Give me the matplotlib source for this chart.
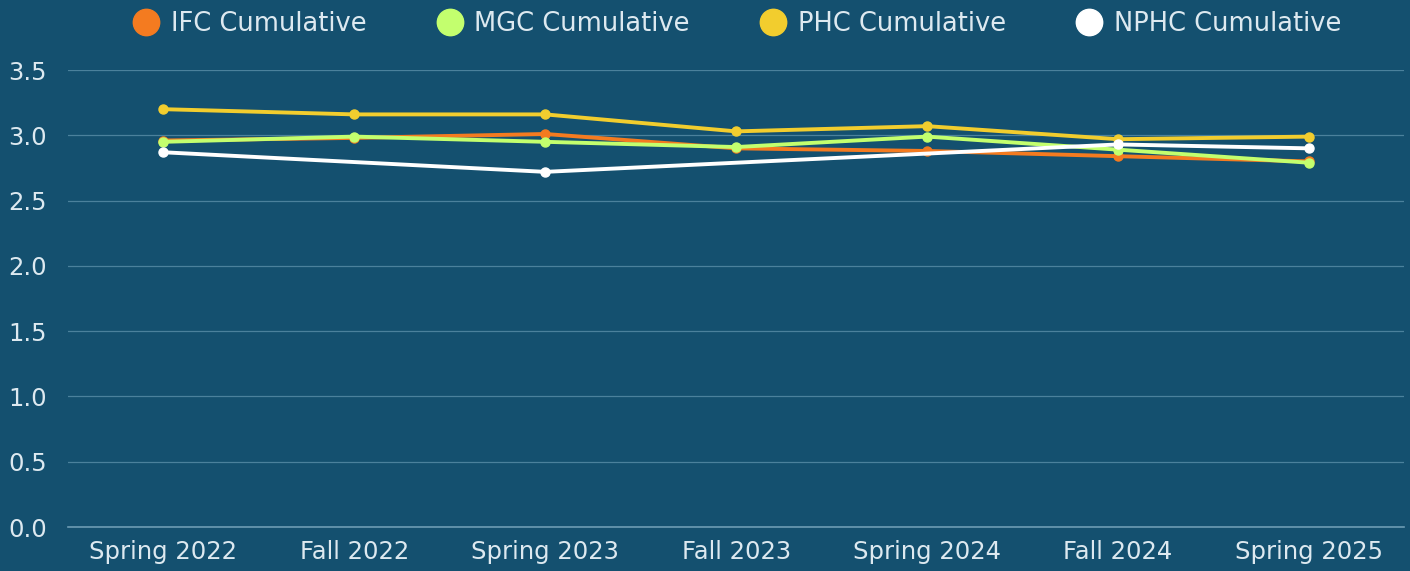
import matplotlib.pyplot as plt
import numpy as np
from matplotlib.lines import Line2D

# Data
terms = ["Spring 2022", "Fall 2022", "Spring 2023", "Fall 2023",
         "Spring 2024", "Fall 2024", "Spring 2025"]
ifc = [2.96, 2.98, 3.01, 2.90, 2.88, 2.84, 2.80]
mgc = [2.95, 2.99, 2.95, 2.91, 2.99, 2.89, 2.79]
phc = [3.20, 3.16, 3.16, 3.03, 3.07, 2.97, 2.99]
nphc = [2.87, None, 2.72, None, None, 2.93, 2.90]  # gaps are spanned

series = [
    ("IFC Cumulative", ifc, "#F47B20"),
    ("MGC Cumulative", mgc, "#C3FF6E"),
    ("PHC Cumulative", phc, "#F2CD2E"),
    ("NPHC Cumulative", nphc, "#FFFFFF"),
]

bg = "#14506F"
txt = "#DDE9F0"
grid = "#4B819C"

plt.rcParams['font.family'] = ['DejaVu Sans']

fig = plt.figure(figsize=(14.1, 5.71), dpi=100, facecolor=bg)
ax = fig.add_axes([0.0482, 0.077, 0.9478, 0.8004])
ax.set_facecolor(bg)

x = np.arange(len(terms))
for name, vals, col in series:
    xs = [i for i, v in zip(x, vals) if v is not None]
    ys = [v for v in vals if v is not None]
    ax.plot(xs, ys, color=col, lw=2.8, marker="o", ms=6.5, zorder=3)

ax.set_xlim(-0.5, len(terms) - 0.5)
ax.set_ylim(0, 3.5)
ax.set_yticks(np.arange(0, 3.51, 0.5))
ax.set_yticklabels([f"{v:.1f}" for v in np.arange(0, 3.51, 0.5)])
ax.set_xticks(x)
ax.set_xticklabels(terms)
ax.tick_params(colors=txt, labelsize=17.5, length=0, pad=9)
ax.tick_params(axis="y", pad=15)
ax.grid(axis="y", color=grid, lw=0.9)
ax.axhline(0, color="#6C9BB3", lw=1.2, clip_on=False, zorder=1)
ax.set_axisbelow(True)
for s in ax.spines.values():
    s.set_visible(False)

handles = [Line2D([], [], ls="none", marker="o", ms=19, color=c, mec=c)
           for _, _, c in series]
leg = fig.legend(handles, [n for n, _, _ in series], loc="upper center",
                 bbox_to_anchor=(0.523, 1.022), ncol=4, frameon=False,
                 fontsize=18.5, handletextpad=0.45, columnspacing=2.75,
                 handlelength=1.0)
for t in leg.get_texts():
    t.set_color(txt)

fig.savefig("out.png", dpi=100, facecolor=bg)
